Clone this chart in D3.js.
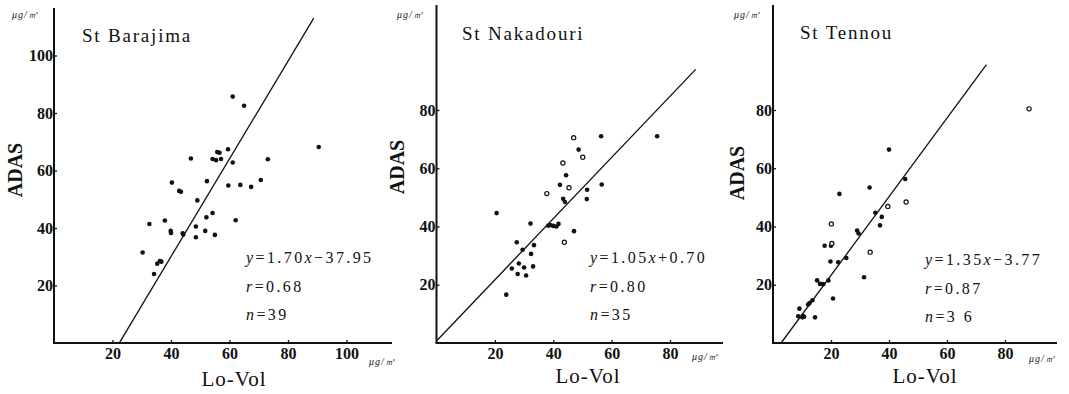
<!DOCTYPE html>
<html>
<head>
<meta charset="utf-8">
<script src="https://cdn.jsdelivr.net/npm/d3@7"></script>
<style>
  body { margin: 0; background: #fff; }
  svg { display: block; }
  text { font-family: "Liberation Serif", "DejaVu Serif", serif; fill: #111; }
</style>
</head>
<body>
<div id="chart"></div>
<script>
// values (Lo-Vol x, ADAS y, ug/m3)
var barajimaPts = [
    [61.1, 85.7], [65.0, 82.5], [90.5, 68.2], [46.8, 64.2], [54.2, 64.0],
    [55.4, 63.6], [55.8, 66.4], [56.6, 66.2], [57.1, 64.0], [59.5, 67.4],
    [61.1, 62.8], [73.1, 63.9], [40.3, 55.8], [42.8, 52.9], [43.4, 52.6],
    [52.3, 56.3], [59.6, 54.8], [63.7, 55.0], [67.4, 54.3], [70.7, 56.7],
    [49.0, 49.6], [32.6, 41.4], [37.9, 42.6], [39.9, 39.0], [40.0, 38.3],
    [44.0, 38.2], [44.2, 37.7], [48.5, 40.5], [48.5, 36.8], [52.1, 43.7],
    [54.2, 45.2], [51.7, 39.0], [55.0, 37.6], [62.1, 42.7], [30.3, 31.5],
    [35.3, 27.6], [36.2, 28.5], [36.7, 28.3], [34.2, 24.0]
];
var barajimaOpen = [];

var nakadouriPts = [
    [20.6, 44.6], [23.9, 16.6], [56.4, 71.0], [75.6, 71.0], [48.7, 66.4],
    [44.4, 57.6], [42.3, 54.3], [51.6, 52.6], [51.5, 49.4], [56.6, 54.4],
    [43.4, 49.5], [44.0, 48.4], [32.2, 41.0], [38.3, 40.3], [39.0, 40.5],
    [41.1, 40.0], [41.8, 40.9], [40.0, 40.2], [47.1, 38.4], [27.5, 34.6],
    [33.4, 33.6], [29.5, 32.0], [32.4, 30.6], [28.2, 27.3], [25.8, 25.6],
    [30.0, 25.9], [33.1, 26.3], [27.8, 23.7], [30.7, 23.2]
];
var nakadouriOpen = [
    [47.0, 70.5], [50.1, 63.8], [43.3, 61.8], [45.4, 53.3], [37.8, 51.3],
    [43.8, 34.6]
];

var tennouPts = [
    [40.0, 66.4], [33.3, 53.4], [22.9, 51.2], [45.6, 56.3],
    [35.3, 44.7], [37.5, 43.3], [36.9, 40.4], [29.0, 38.6], [29.5, 37.6],
    [17.8, 33.4], [20.0, 33.4], [19.8, 28.0], [22.5, 27.7], [25.3, 29.2],
    [31.4, 22.6], [15.2, 21.5], [16.2, 20.3], [19.1, 21.5], [17.3, 20.2],
    [20.7, 15.3], [13.6, 14.7], [12.1, 13.2], [12.6, 13.7], [9.1, 11.8],
    [8.7, 9.2], [10.1, 8.8], [10.7, 9.0], [10.3, 9.3], [14.5, 8.8]
];
var tennouOpen = [
    [88.3, 80.4], [45.9, 48.4], [39.6, 46.9], [20.1, 40.9], [20.3, 34.2],
    [33.5, 31.2]
];

var barajimaTicks = [20, 40, 60, 80, 100];
var nakadouriTicks = [20, 40, 60, 80];
var tennouTicks = [20, 40, 60, 80];

// regression: [slope, intercept], fitted x range
var barajimaFit = [1.70, -37.95], barajimaFitX = [22.3, 88.8];
var nakadouriFit = [1.05, 0.70], nakadouriFitX = [0, 88.8];
var tennouFit = [1.35, -3.77], tennouFitX = [2.79, 73.6];

var barajimaStats = ["1.70", "−37.95", "0.68", "39"];
var nakadouriStats = ["1.05", "+0.70", "0.80", "35"];
var tennouStats = ["1.35", "−3.77", "0.87", "3 6"];

var W = 1069, H = 394;
var svg = d3.select("#chart").append("svg")
    .attr("width", W)
    .attr("height", H);

function drawPanel(p) {
    var x = d3.scaleLinear().domain([0, p.xMax]).range([p.x0, p.xEndTick]);
    var y = d3.scaleLinear().domain([0, p.yMax]).range([p.y0, p.yEndTick]);
    var g = svg.append("g");

    // axes
    var xAxis = g.append("g")
        .attr("transform", "translate(0," + p.y0 + ")")
        .call(d3.axisBottom(x).tickValues(p.ticks).tickSizeInner(-3).tickSizeOuter(0).tickPadding(5));
    var yAxis = g.append("g")
        .attr("transform", "translate(" + p.x0 + ",0)")
        .call(d3.axisLeft(y).tickValues(p.yTicks).tickSizeInner(-3).tickSizeOuter(0).tickPadding(1));
    [xAxis, yAxis].forEach(function(a) {
        a.attr("font-family", null).attr("font-size", null);
        a.select(".domain").remove();
        a.selectAll(".tick line").attr("stroke", "#111").attr("stroke-width", 1.3);
        a.selectAll(".tick text")
            .style("font-family", "'Liberation Serif', serif")
            .style("font-size", "16px")
            .style("font-weight", "bold")
            .attr("fill", "#111");
    });

    g.append("line")
        .attr("x1", p.x0).attr("x2", p.x0)
        .attr("y1", p.y0).attr("y2", p.axisTop)
        .attr("stroke", "#111").attr("stroke-width", 2);
    g.append("line")
        .attr("x1", p.x0 - 1).attr("x2", p.axisRight)
        .attr("y1", p.y0).attr("y2", p.y0)
        .attr("stroke", "#111").attr("stroke-width", 2);

    // regression line
    g.append("line")
        .attr("x1", x(p.fitX[0])).attr("y1", y(p.fit[0] * p.fitX[0] + p.fit[1]))
        .attr("x2", x(p.fitX[1])).attr("y2", y(p.fit[0] * p.fitX[1] + p.fit[1]))
        .attr("stroke", "#111").attr("stroke-width", 1.3);

    // points
    g.selectAll("circle.dot")
        .data(p.pts)
        .enter().append("circle")
            .attr("class", "dot")
            .attr("cx", function(d) { return x(d[0]); })
            .attr("cy", function(d) { return y(d[1]); })
            .attr("r", 2.3)
            .attr("fill", "#111");
    g.selectAll("circle.ring")
        .data(p.open)
        .enter().append("circle")
            .attr("class", "ring")
            .attr("cx", function(d) { return x(d[0]); })
            .attr("cy", function(d) { return y(d[1]); })
            .attr("r", 2.1)
            .attr("fill", "#fff")
            .attr("stroke", "#111")
            .attr("stroke-width", 1.2);

    // titles / labels
    g.append("text")
        .attr("x", p.titleX).attr("y", p.titleY)
        .style("font-size", "19px")
        .style("letter-spacing", "1.8px")
        .text(p.title);

    g.append("text")
        .attr("transform", "translate(" + p.adasX + "," + p.adasY + ") rotate(-90)")
        .attr("text-anchor", "middle")
        .style("font-size", "20px")
        .style("font-weight", "bold")
        .text("ADAS");

    g.append("text")
        .attr("x", p.loX).attr("y", p.loY)
        .attr("text-anchor", "middle")
        .style("font-size", "21px")
        .style("letter-spacing", "1px")
        .text("Lo-Vol");

    [p.unitTop, p.unitRight].forEach(function(u) {
        g.append("text")
            .attr("x", u[0]).attr("y", u[1])
            .style("font-size", "10px")
            .style("font-style", "italic")
            .style("letter-spacing", "1px")
            .text("μg/㎥");
    });

    // equation block
    var lines = [
        [["y", true], ["=" + p.stats[0], false], ["x", true], [p.stats[1], false]],
        [["r", true], ["=" + p.stats[2], false]],
        [["n", true], ["=" + p.stats[3], false]]
    ];
    lines.forEach(function(parts, i) {
        var t = g.append("text")
            .attr("x", p.eqX).attr("y", p.eqY + i * 28.5)
            .style("font-size", "16px")
            .style("letter-spacing", "2.4px");
        parts.forEach(function(s) {
            t.append("tspan")
                .style("font-style", s[1] ? "italic" : "normal")
                .text(s[0]);
        });
    });
}

drawPanel({
    pts: barajimaPts, open: barajimaOpen, ticks: barajimaTicks, yTicks: barajimaTicks,
    fit: barajimaFit, fitX: barajimaFitX, stats: barajimaStats,
    xMax: 100, yMax: 100,
    x0: 54, xEndTick: 346.5, y0: 343, yEndTick: 55.5,
    axisTop: 8, axisRight: 392,
    title: "St Barajima", titleX: 82, titleY: 42,
    adasX: 22, adasY: 170, loX: 234, loY: 386,
    unitTop: [12, 18], unitRight: [369, 365],
    eqX: 246, eqY: 263
});

drawPanel({
    pts: nakadouriPts, open: nakadouriOpen, ticks: nakadouriTicks, yTicks: nakadouriTicks,
    fit: nakadouriFit, fitX: nakadouriFitX, stats: nakadouriStats,
    xMax: 80, yMax: 80,
    x0: 436.5, xEndTick: 670, y0: 343, yEndTick: 110,
    axisTop: 5, axisRight: 723,
    title: "St Nakadouri", titleX: 462, titleY: 40,
    adasX: 404, adasY: 167, loX: 588, loY: 383,
    unitTop: [397, 18], unitRight: [692, 360],
    eqX: 590, eqY: 263
});

drawPanel({
    pts: tennouPts, open: tennouOpen, ticks: tennouTicks, yTicks: tennouTicks,
    fit: tennouFit, fitX: tennouFitX, stats: tennouStats,
    xMax: 80, yMax: 80,
    x0: 773, xEndTick: 1005, y0: 343, yEndTick: 110,
    axisTop: 5, axisRight: 1057,
    title: "St Tennou", titleX: 800, titleY: 39,
    adasX: 744, adasY: 173, loX: 925, loY: 383,
    unitTop: [734, 18], unitRight: [1029, 362],
    eqX: 925, eqY: 265
});
</script>
</body>
</html>
